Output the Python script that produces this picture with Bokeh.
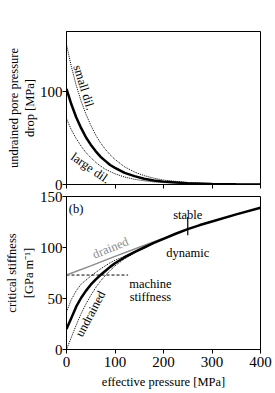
from bokeh.plotting import figure
from bokeh.models import Range1d, FixedTicker, Label, Title
from bokeh.layouts import column
from bokeh.embed import file_html
from bokeh.resources import INLINE

FONT = "Liberation Serif"

# ---------------- data: top panel (undrained pore pressure drop, MPa) ----------------
p_top = [0, 10, 20, 30, 40, 50, 60, 70, 80, 90, 100, 120, 140, 160, 180, 200, 250, 300, 350, 400]
drop_main = [103, 86.5, 72.5, 61, 51, 43, 36, 30, 25.5, 21, 18, 12.5, 9, 6.2, 4.4, 3.1, 1.3, 0.5, 0.2, 0.1]
drop_small_dil = [151, 127, 107, 90, 76, 64, 53.5, 45, 38, 32, 27, 19, 13.5, 9.6, 6.8, 4.8, 2, 0.9, 0.4, 0.15]
drop_large_dil = [71, 59, 49.5, 41.5, 34.5, 29, 24, 20, 16.5, 14, 11.5, 8, 5.6, 4, 2.8, 2, 0.8, 0.3, 0.1, 0.05]

# ---------------- data: bottom panel (critical stiffness, GPa/m) ----------------
p_crit = [0, 10, 20, 30, 40, 50, 60, 70, 80, 90, 100, 120, 140, 160, 180, 200, 225, 250, 275, 300, 350, 400]
k_crit = [20, 31, 42, 50.5, 57.5, 63.5, 68.5, 73, 77, 81, 84.5, 90.5, 95.5, 100, 104.5, 108.5, 113.5, 118, 122, 125.5, 132.5, 139]

p_upper = [0, 10, 20, 30, 40, 50, 60, 70, 80, 90, 100, 120, 140]
k_upper = [37, 49, 57.5, 64, 68, 72, 75.5, 79, 82, 85, 87.5, 91.5, 96]

p_undrained = [0, 10, 20, 30, 40, 50, 60, 70, 80, 90, 100, 120, 140, 160, 180, 200]
k_undrained = [0, 12, 24, 35, 44.5, 53, 60.5, 67, 72.5, 77.5, 82, 89, 94.5, 99.5, 104, 108.5]

p_drained = [0, 50, 100, 150, 200, 220]
k_drained = [73, 82, 91.3, 100.3, 109, 112.5]

p_machine = [0, 127]
k_machine = [73, 73]

p_transition = [250, 250]
k_transition = [112, 130]

x_ticks = [0, 100, 200, 300, 400]
top_y_ticks = [0, 100]
bottom_y_ticks = [0, 50, 100, 150]


def make_fig(ymax, yticks, min_top, min_bottom, show_xlabels):
    p = figure(frame_width=194, frame_height=153,
               x_range=Range1d(0, 400), y_range=Range1d(0, ymax),
               output_backend="svg", toolbar_location=None,
               min_border_left=66, min_border_right=15,
               min_border_top=min_top, min_border_bottom=min_bottom)
    p.xgrid.visible = False
    p.ygrid.visible = False
    p.outline_line_color = "black"
    p.outline_line_width = 1
    p.background_fill_color = "white"
    p.border_fill_color = "white"
    for ax in (p.xaxis[0], p.yaxis[0]):
        ax.axis_line_color = "black"
        ax.axis_line_width = 1
        ax.major_tick_line_color = "black"
        ax.major_tick_out = 4
        ax.major_tick_in = 0
        ax.minor_tick_line_color = None
        ax.major_label_text_font = FONT
        ax.major_label_text_font_size = "15px"
        ax.major_label_text_color = "black"
    p.xaxis.ticker = FixedTicker(ticks=x_ticks)
    p.yaxis.ticker = FixedTicker(ticks=yticks)
    p.yaxis.major_label_standoff = 0
    if show_xlabels:
        p.xaxis.major_label_standoff = 3
    else:
        p.xaxis.major_label_text_font_size = "0px"
        p.xaxis.major_label_standoff = 0
    return p


def add_text(p, x, y, text, size="12.5px", angle=0, align="center",
             baseline="middle", color="black"):
    p.add_layout(Label(x=x, y=y, text=text, text_font=FONT, text_font_size=size,
                       angle=angle, angle_units="deg", text_align=align,
                       text_baseline=baseline, text_color=color))


def add_side_title(p, text, standoff):
    p.add_layout(Title(text=text, align="center", text_font=FONT,
                       text_font_size="12.5px", text_font_style="normal",
                       text_color="black", standoff=standoff), "left")


# ---------------- top panel ----------------
top = make_fig(165, top_y_ticks, 31, 6, False)
top.line(p_top, drop_small_dil, line_color="black", line_width=1, line_dash="1 1")
top.line(p_top, drop_large_dil, line_color="black", line_width=1, line_dash="1 1")
top.line(p_top, drop_main, line_color="black", line_width=2.5)
add_text(top, 36, 104.6, "small dil.", angle=-73)
add_text(top, 49.5, 17.7, "large dil.", angle=-35)
add_side_title(top, "drop [MPa]", 0)
add_side_title(top, "undrained pore pressure", 0)

# ---------------- bottom panel ----------------
bot = make_fig(150, bottom_y_ticks, 6, 44, True)
bot.line(p_machine, k_machine, line_color="black", line_width=1, line_dash="3 2")
bot.line(p_drained, k_drained, line_color="#8c8c8c", line_width=1.5)
bot.line(p_upper, k_upper, line_color="black", line_width=1, line_dash="1 1")
bot.line(p_undrained, k_undrained, line_color="black", line_width=1, line_dash="1 1")
bot.line(p_crit, k_crit, line_color="black", line_width=2.5)
bot.line(p_transition, k_transition, line_color="black", line_width=1.2)
add_text(bot, 4.7, 137.7, "(b)", align="left", baseline="alphabetic")
add_text(bot, 250, 132, "stable", baseline="alphabetic")
add_text(bot, 250, 94.6, "dynamic", baseline="alphabetic")
add_text(bot, 173, 64.4, "machine", baseline="alphabetic")
add_text(bot, 173, 51.3, "stiffness", baseline="alphabetic")
add_text(bot, 90.7, 99.5, "drained", angle=22, color="#8c8c8c")
add_text(bot, 49.5, 35, "undrained", angle=62)
add_side_title(bot, "[GPa m\u207b\u00b9]", 2)
add_side_title(bot, "critical stiffness", 0)
bot.xaxis.axis_label = "effective pressure [MPa]"
bot.xaxis.axis_label_text_font = FONT
bot.xaxis.axis_label_text_font_size = "12.5px"
bot.xaxis.axis_label_text_font_style = "normal"
bot.xaxis.axis_label_text_color = "black"
bot.xaxis.axis_label_standoff = 5

layout = column(top, bot, spacing=0)
open("out.html", "w").write(file_html(layout, INLINE))
